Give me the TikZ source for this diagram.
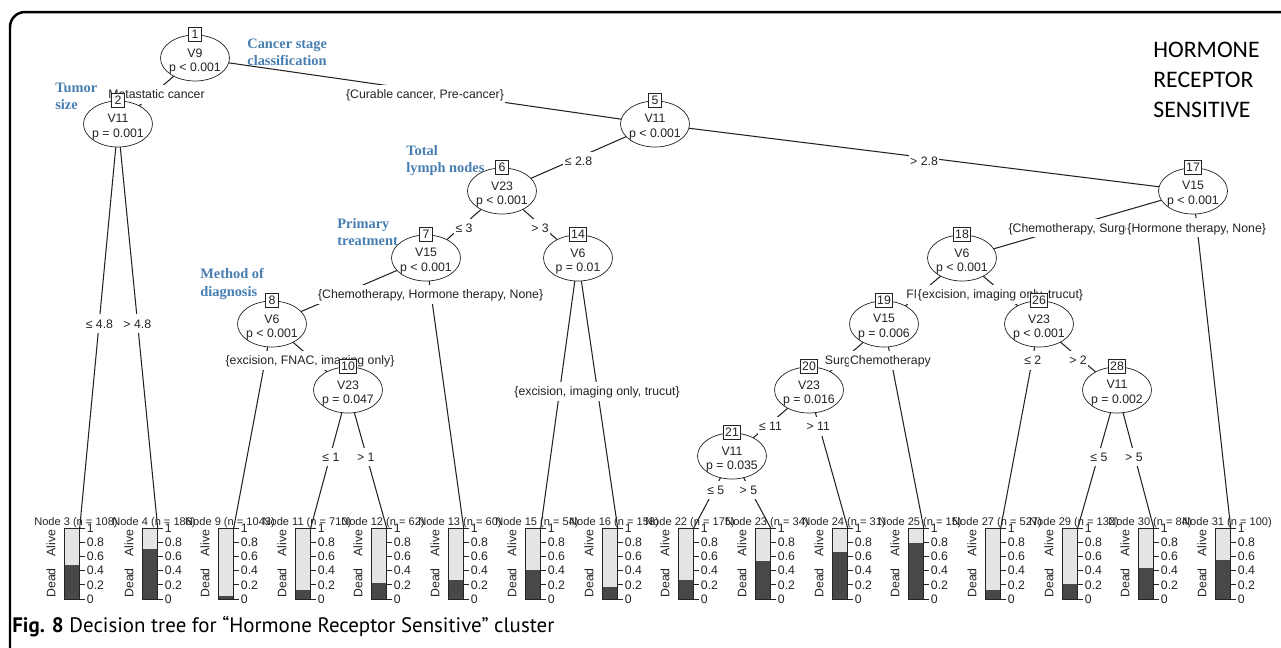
\documentclass[tikz,border=0pt]{standalone}
\usepackage{fontspec}
\setmainfont{Liberation Sans}
\newfontfamily\notefont{Liberation Serif}
\newfontfamily\clusterfont{Carlito}
\newfontfamily\capfont{PT Sans}
\usetikzlibrary{shapes.geometric}

\pgfdeclarelayer{edges}
\pgfsetlayers{edges,main}

\definecolor{notecol}{RGB}{70,126,178}
\definecolor{deadcol}{RGB}{72,72,72}
\definecolor{alivecol}{RGB}{228,228,228}
\definecolor{inkcol}{RGB}{35,35,35}

% split node: name, x, y, number, variable, p value
\newcommand{\splitnode}[6]{%
  \node[knot] (#1) at (#2,#3) {};
  \node[knottext] at (#2,#3+3.5) {#5\\#6};
  \node[numbox] at (#1.north) {#4};
}
% terminal node: number, left x of bar, n, share dead
\newcommand{\termnode}[4]{%
  \node[leafbar] (t#1) at (#2,528) {};
  \fill[deadcol] (#2,599) rectangle (#2+15,{599-71*#4});
  \draw[barline] (#2,528) rectangle (#2+15,599);
  \foreach \v in {0,0.2,0.4,0.6,0.8,1}
    \draw[barline] (#2+15,{599-71*\v}) -- (#2+21,{599-71*\v}) node[ticklab] {\v};
  \node[sidelab] at (#2-13,543) {Alive};
  \node[sidelab] at (#2-13,583) {Dead};
  \node[leaflab] at (#2+12,523) {Node #1 (n = #3)};
}

\begin{document}
\begin{tikzpicture}[x=0.02cm, y=-0.02cm,
    knot/.style={ellipse, draw=inkcol, fill=white, minimum width=1.38cm, minimum height=0.92cm, inner sep=0pt},
    knottext/.style={align=center, inner sep=0pt, text=inkcol, font=\fontsize{7}{8.5}\selectfont},
    numbox/.style={draw=inkcol, fill=white, inner sep=0.03cm, minimum width=0.26cm, minimum height=0.28cm, text=inkcol, font=\fontsize{7}{8}\selectfont},
    branch/.style={draw=inkcol, line width=0.6pt},
    blab/.style={pos=0.5, fill=white, inner sep=0.03cm, text height=0.7em, text depth=0.2em, yshift=-0.07cm, text=inkcol, font=\fontsize{7}{8}\selectfont},
    leafbar/.style={anchor=north west, minimum width=0.3cm, minimum height=1.42cm, inner sep=0pt, fill=alivecol},
    barline/.style={draw=inkcol, line width=0.5pt},
    ticklab/.style={anchor=west, inner sep=0.03cm, text=inkcol, font=\fontsize{7}{8}\selectfont},
    sidelab/.style={rotate=90, inner sep=0pt, text=inkcol, font=\fontsize{7}{8}\selectfont},
    leaflab/.style={inner sep=0pt, text=inkcol, font=\fontsize{6.3}{7}\selectfont},
    varnote/.style={anchor=west, align=left, inner sep=0pt, text=notecol, font=\notefont\bfseries\fontsize{8.2}{9.7}\selectfont},
    cluster/.style={anchor=west, align=left, inner sep=0pt, font=\clusterfont\fontsize{13.5}{17}\selectfont}]

  \useasboundingbox (0,0) rectangle (1281,647);
  \draw[line width=0.05cm, rounded corners=0.3cm] (10,700) -- (10,12) -- (1330,12);

  % split nodes
  \splitnode{n1}{195}{58}{1}{V9}{p < 0.001}
  \splitnode{n2}{118}{124}{2}{V11}{p = 0.001}
  \splitnode{n5}{655}{124}{5}{V11}{p < 0.001}
  \splitnode{n6}{502}{191}{6}{V23}{p < 0.001}
  \splitnode{n7}{426}{258}{7}{V15}{p < 0.001}
  \splitnode{n8}{272}{324}{8}{V6}{p < 0.001}
  \splitnode{n10}{348}{390}{10}{V23}{p = 0.047}
  \splitnode{n14}{578}{258}{14}{V6}{p = 0.01}
  \splitnode{n17}{1193}{191}{17}{V15}{p < 0.001}
  \splitnode{n18}{962}{258}{18}{V6}{p < 0.001}
  \splitnode{n19}{884}{324}{19}{V15}{p = 0.006}
  \splitnode{n20}{809}{390}{20}{V23}{p = 0.016}
  \splitnode{n21}{732}{456}{21}{V11}{p = 0.035}
  \splitnode{n26}{1039}{324}{26}{V23}{p < 0.001}
  \splitnode{n28}{1117}{390}{28}{V11}{p = 0.002}

  % terminal nodes
  \termnode{3}{64}{108}{0.48}
  \termnode{4}{142}{186}{0.70}
  \termnode{9}{218}{1043}{0.04}
  \termnode{11}{295}{710}{0.13}
  \termnode{12}{371}{62}{0.22}
  \termnode{13}{448}{60}{0.27}
  \termnode{15}{525}{54}{0.41}
  \termnode{16}{602}{158}{0.17}
  \termnode{22}{678}{175}{0.27}
  \termnode{23}{755}{34}{0.54}
  \termnode{24}{832}{31}{0.66}
  \termnode{25}{908}{15}{0.79}
  \termnode{27}{985}{527}{0.13}
  \termnode{29}{1062}{132}{0.21}
  \termnode{30}{1138}{84}{0.44}
  \termnode{31}{1215}{100}{0.55}

  \begin{pgfonlayer}{edges}
  \draw[branch] (n1.center) -- (n2.center) node[blab] {Metastatic cancer};
  \draw[branch] (n1.center) -- (n5.center) node[blab] {\{Curable cancer, Pre-cancer\}};
  \draw[branch] (n2.center) -- (t3.north east) node[blab, pos=0.486] {≤ 4.8};
  \draw[branch] (n2.center) -- (t4.north east) node[blab, pos=0.486] {> 4.8};
  \draw[branch] (n5.center) -- (n6.center) node[blab] {≤ 2.8};
  \draw[branch] (n5.center) -- (n17.center) node[blab] {> 2.8};
  \draw[branch] (n6.center) -- (n7.center) node[blab] {≤ 3};
  \draw[branch] (n6.center) -- (n14.center) node[blab] {> 3};
  \draw[branch] (n7.center) -- (n8.center);
  \draw[branch] (n7.center) -- (t13.north east) node[blab, pos=0.122] {\{Chemotherapy, Hormone therapy, None\}};
  \draw[branch] (n8.center) -- (t9.north east);
  \draw[branch] (n8.center) -- (n10.center) node[blab] {\{excision, FNAC, imaging only\}};
  \draw[branch] (n10.center) -- (t11.north east) node[blab, pos=0.46] {≤ 1};
  \draw[branch] (n10.center) -- (t12.north east) node[blab, pos=0.46] {> 1};
  \draw[branch] (n14.center) -- (t15.north east);
  \draw[branch] (n14.center) -- (t16.north east) node[blab, pos=0.48] {\{excision, imaging only, trucut\}};
  \draw[branch] (n17.center) -- (n18.center) node[blab] {\{Chemotherapy, Surgery\}};
  \draw[branch] (n17.center) -- (t31.north east) node[blab, pos=0.099] {\{Hormone therapy, None\}};
  \draw[branch] (n18.center) -- (n19.center) node[blab] {FNAC};
  \draw[branch] (n18.center) -- (n26.center) node[blab] {\{excision, imaging only, trucut\}};
  \draw[branch] (n19.center) -- (n20.center) node[blab] {Surgery};
  \draw[branch] (n19.center) -- (t25.north east) node[blab, pos=0.162] {Chemotherapy};
  \draw[branch] (n20.center) -- (n21.center) node[blab] {≤ 11};
  \draw[branch] (n20.center) -- (t24.north east) node[blab, pos=0.239] {> 11};
  \draw[branch] (n21.center) -- (t22.north east) node[blab, pos=0.424] {≤ 5};
  \draw[branch] (n21.center) -- (t23.north east) node[blab, pos=0.424] {> 5};
  \draw[branch] (n26.center) -- (t27.north east) node[blab, pos=0.162] {≤ 2};
  \draw[branch] (n26.center) -- (n28.center) node[blab] {> 2};
  \draw[branch] (n28.center) -- (t29.north east) node[blab, pos=0.46] {≤ 5};
  \draw[branch] (n28.center) -- (t30.north east) node[blab, pos=0.46] {> 5};
  \end{pgfonlayer}

  % variable notes
  \node[varnote] at (247,52) {Cancer stage\\classification};
  \node[varnote] at (55,96) {Tumor\\size};
  \node[varnote] at (406,161) {Total\\lymph nodes};
  \node[varnote] at (337,232) {Primary\\treatment};
  \node[varnote] at (200,284) {Method of\\diagnosis};

  \node[cluster] at (1153,80) {HORMONE\\RECEPTOR\\SENSITIVE};
  \node[anchor=base west, inner sep=0pt, font=\capfont\fontsize{11.9}{14}\selectfont] at (12,632)
    {\textbf{Fig. 8} Decision tree for “Hormone Receptor Sensitive” cluster};
\end{tikzpicture}
\end{document}
